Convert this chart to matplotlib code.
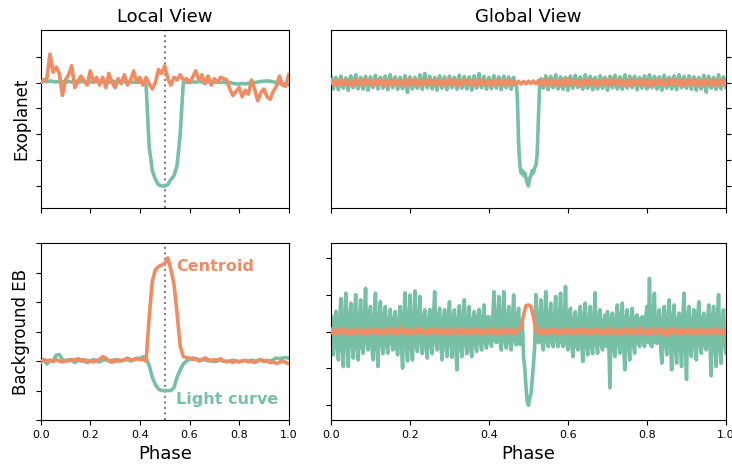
import numpy as np
import matplotlib
matplotlib.use("Agg")
import matplotlib.pyplot as plt

GREEN = "#78c0a5"
ORANGE = "#f08c63"

# local view (81 phase bins)
local_exo_lc = [0.0, 0.05, 0.03, 0.06, 0.04, 0.02, 0.05, 0.03, 0.0, 0.04,
                0.02, 0.05, 0.01, 0.03, 0.04, 0.0, 0.02, 0.05, 0.03, 0.01,
                0.04, 0.02, 0.0, 0.03, 0.05, 0.02, 0.01, 0.04, 0.02, 0.03,
                0.0, 0.02, 0.01, 0.0, -0.1, -2.5, -3.4, -3.75, -3.95, -4.0,
                -4.0, -3.95, -3.75, -3.6, -3.2, -2.0, 0.0, 0.02, 0.0, 0.03,
                0.01, 0.04, 0.02, 0.0, 0.03, 0.02, 0.01, 0.03, 0.0, 0.02,
                -0.02, 0.0, -0.03, -0.05, -0.06, -0.04, -0.05, -0.03, -0.02, 0.0,
                0.02, 0.04, 0.05, 0.06, 0.05, 0.03, 0.0, -0.04, -0.06, -0.05, -0.08]
local_exo_cen = [0.0, 0.1, 0.15, 1.1, 0.4, 0.6, 0.35, -0.5, 0.1, 0.3,
                 0.65, -0.2, 0.05, 0.25, 0.05, -0.1, 0.45, 0.0, 0.2, -0.1,
                 0.2, -0.2, 0.35, 0.0, -0.2, 0.15, -0.05, 0.3, -0.1, 0.1,
                 0.45, 0.0, 0.2, -0.1, 0.2, -0.05, -0.25, 0.0, 0.5, 0.35,
                 0.64, 0.15, -0.1, 0.2, 0.1, 0.3, 0.1, 0.15, 0.0, 0.2,
                 0.45, 0.1, 0.3, -0.05, 0.25, -0.1, 0.15, 0.0, 0.2, 0.15,
                 0.1, -0.25, -0.5, -0.35, -0.2, -0.55, -0.3, -0.45, 0.1, -0.25,
                 -0.7, -0.4, -0.25, -0.55, -0.65, -0.35, -0.15, 0.25, -0.1, -0.15, 0.3]
local_eb_lc = [0.0, 0.05, -0.1, 0.02, 0.0, 0.2, 0.22, 0.05, 0.0, 0.05,
               0.02, -0.05, 0.0, 0.05, -0.02, 0.03, 0.0, 0.05, 0.0, -0.03,
               0.02, 0.05, 0.0, 0.03, -0.02, 0.05, 0.0, 0.03, 0.05, 0.0,
               0.05, 0.1, 0.08, 0.15, 0.1, -0.15, -0.55, -0.8, -0.95, -1.0,
               -1.0, -1.0, -1.0, -0.9, -0.55, -0.3, -0.1, 0.0, 0.05, 0.1,
               0.08, 0.05, 0.03, 0.05, 0.0, 0.02, -0.02, 0.0, 0.03, 0.0,
               -0.02, 0.0, 0.03, 0.0, -0.02, 0.0, 0.02, 0.0, 0.03, 0.0,
               0.02, 0.05, 0.0, 0.02, 0.0, 0.05, 0.1, 0.08, 0.1, 0.12, 0.1]
local_eb_cen = [-0.05, 0.05, 0.0, 0.03, -0.02, 0.05, 0.0, -0.03, 0.02, 0.0,
                0.05, 0.03, 0.08, 0.0, 0.05, -0.05, 0.0, -0.03, 0.02, 0.05,
                0.15, 0.1, 0.0, -0.05, 0.05, 0.0, 0.02, 0.05, 0.1, 0.05,
                0.03, 0.08, 0.05, 0.05, 0.0, 1.5, 2.7, 3.1, 3.2, 3.25,
                3.3, 3.5, 3.1, 2.6, 1.6, 0.5, 0.15, 0.12, 0.1, 0.05,
                0.08, 0.0, 0.05, 0.1, 0.05, 0.0, 0.05, 0.02, 0.08, 0.0,
                -0.02, 0.0, -0.05, 0.0, -0.03, 0.0, 0.02, -0.03, 0.0, -0.05,
                0.0, 0.05, -0.02, 0.0, -0.05, -0.03, -0.08, -0.05, 0.0, -0.05, -0.08]

# global view light curves (321 phase bins)
global_exo_lc = [
    0.22, -0.08, -0.25, 0.1, 0.2, -0.05, -0.28, 0.08, 0.25, -0.1, -0.22, 0.06, 0.18, -0.08, -0.3, 0.1, 0.26, -0.06, -0.2, 0.08,
    0.3, -0.1, -0.24, 0.05, 0.2, -0.08, -0.26, 0.1, 0.24, -0.06, -0.3, 0.08, 0.22, -0.1, -0.2, 0.06, 0.28, -0.08, -0.25, 0.1,
    0.2, -0.05, -0.22, 0.08, 0.25, -0.1, -0.28, 0.06, 0.3, -0.08, -0.2, 0.1, 0.22, -0.06, -0.26, 0.08, 0.2, -0.1, -0.24, 0.05,
    0.26, -0.08, -0.38, 0.1, 0.22, -0.06, -0.25, 0.08, 0.2, -0.1, -0.22, 0.05, 0.3, -0.08, -0.26, 0.1, 0.35, -0.06, -0.2, 0.08,
    0.24, -0.1, -0.25, 0.06, 0.2, -0.08, -0.3, 0.1, 0.26, -0.05, -0.22, 0.08, 0.22, -0.1, -0.28, 0.06, 0.25, -0.08, -0.2, 0.1,
    0.2, -0.06, -0.26, 0.08, 0.28, -0.1, -0.22, 0.05, 0.24, -0.08, -0.25, 0.1, 0.22, -0.06, -0.3, 0.08, 0.26, -0.1, -0.22, 0.06,
    0.35, -0.08, -0.2, 0.1, 0.24, -0.05, -0.26, 0.08, 0.2, -0.1, -0.24, 0.06, 0.26, -0.08, -0.22, 0.1, 0.22, -0.06, -0.28, 0.08,
    0.25, -0.1, -0.2, 0.06, 0.22, -0.08, -0.26, 0.1, 0.2, -0.1, 0.0, -0.6, -2.4, -3.2, -3.5, -3.4, -3.6, -3.5, -3.7, -3.9,
    -4.0, -3.7, -3.6, -3.4, -3.5, -3.3, -3.2, -2.8, -1.5, -0.1, 0.15, -0.08, -0.22, 0.1, 0.26, -0.06, -0.28, 0.08, 0.24, -0.1,
    -0.2, 0.05, 0.3, -0.08, -0.25, 0.1, 0.22, -0.06, -0.26, 0.08, 0.2, -0.1, -0.3, 0.06, 0.25, -0.08, -0.22, 0.1, 0.28, -0.05,
    -0.2, 0.08, 0.22, -0.1, -0.26, 0.06, 0.3, -0.08, -0.22, 0.1, 0.24, -0.05, -0.28, 0.08, 0.2, -0.1, -0.25, 0.06, 0.26, -0.08,
    -0.22, 0.1, 0.2, -0.06, -0.3, 0.08, 0.24, -0.1, -0.2, 0.05, 0.28, -0.08, -0.25, 0.1, 0.22, -0.06, -0.26, 0.08, 0.3, -0.1,
    -0.22, 0.06, 0.25, -0.08, -0.2, 0.1, 0.24, -0.05, -0.28, 0.08, 0.2, -0.1, -0.22, 0.06, 0.26, -0.08, -0.25, 0.1, 0.3, -0.06,
    -0.2, 0.08, 0.24, -0.1, -0.26, 0.05, 0.22, -0.08, -0.3, 0.1, 0.28, -0.06, -0.22, 0.08, 0.2, -0.1, -0.25, 0.06, 0.26, -0.08,
    -0.28, 0.1, 0.3, -0.05, -0.2, 0.08, 0.24, -0.1, -0.22, 0.06, 0.26, -0.08, -0.26, 0.1, 0.22, -0.06, -0.3, 0.08, 0.2, -0.1,
    -0.25, 0.05, 0.28, -0.08, -0.38, 0.1, 0.24, -0.06, -0.22, 0.08, 0.2, -0.1, -0.26, 0.06, 0.3, -0.08, -0.25, 0.1, 0.22, -0.05,
    -0.2]
global_eb_lc = [
    0.4, -0.3, -0.63, 0.35, 0.55, -0.4, -0.77, 0.3, 0.9, -0.35, -0.95, 0.4, 1.04, -0.3, -0.95, 0.35, 0.77, -0.25, -0.72, 0.4,
    1.0, -0.35, -0.77, 0.3, 0.86, -0.4, -0.59, 0.35, 1.17, -0.3, -0.5, 0.45, 0.68, -0.35, -0.77, 0.3, 1.04, -0.4, -0.95, 0.35,
    0.81, -0.3, -0.6, 0.4, 0.68, -0.35, -0.59, 0.3, 0.6, -0.25, -0.5, 0.35, 0.54, -0.4, -0.63, 0.3, 0.68, -0.35, -0.99, 0.4,
    1.05, -0.3, -0.8, 0.35, 0.99, -0.4, -0.77, 0.3, 1.1, -0.35, -0.54, 0.4, 0.95, -0.3, -0.6, 0.35, 0.59, -0.4, -0.72, 0.3,
    0.6, -0.35, -0.6, 0.4, 1.08, -0.3, -0.5, 0.35, 0.63, -0.4, -0.77, 0.3, 0.59, -0.35, -0.68, 0.4, 0.81, -0.3, -0.7, 0.35,
    0.59, -0.4, -1.04, 0.3, 0.7, -0.35, -0.68, 0.4, 0.86, -0.3, -0.6, 0.35, 0.68, -0.4, -0.68, 0.3, 0.54, -0.35, -0.54, 0.4,
    0.6, -0.3, -0.5, 0.35, 0.72, -0.3, -0.45, 0.4, 0.4, -0.3, -0.4, 0.35, 1.08, -0.25, -0.3, 0.4, 0.95, -0.3, -0.5, 0.35,
    1.08, -0.25, -0.45, 0.4, 0.68, -0.3, -0.5, 0.35, 0.99, -0.25, -0.36, 0.4, 0.63, -0.35, -0.3, 0.3, -0.7, -1.0, -1.5, -1.9,
    -2.0, -1.8, -1.7, -1.3, -0.9, -0.4, 1.0, -0.2, -0.3, 0.4, 0.86, -0.3, -0.5, 0.35, 1.08, -0.25, -0.41, 0.4, 0.77, -0.3,
    -0.41, 0.35, 0.95, -0.25, -0.41, 0.4, 1.04, -0.3, -0.41, 0.35, 1.22, -0.3, -0.5, 0.4, 0.63, -0.35, -0.68, 0.3, 0.54, -0.4,
    -0.5, 0.35, 0.68, -0.3, -0.81, 0.4, 0.77, -0.35, -0.63, 0.3, 0.68, -0.4, -0.6, 0.35, 1.05, -0.3, -0.59, 0.4, 0.59, -0.35,
    -0.5, 0.3, 0.45, -0.4, 0.54, -0.3, -1.53, 0.35, 0.5, -0.4, -0.68, 0.3, 0.72, -0.35, -0.59, 0.4, 0.77, -0.3, -1.04, 0.35,
    0.59, -0.4, -0.77, 0.3, 0.63, -0.35, -0.59, 0.4, 0.45, -0.3, -0.41, 0.35, 0.4, -0.3, -0.41, 0.4, 0.68, -0.3, 1.44, -0.35,
    -0.41, 0.4, 1.04, -0.3, -0.32, 0.35, 0.59, -0.4, -0.86, 0.3, 0.68, -0.35, -0.63, 0.4, 0.86, -0.3, -1.04, 0.35, 0.72, -0.4,
    -0.86, 0.3, 0.5, -0.35, -0.95, 0.4, 1.04, -0.3, -1.3, 0.35, 0.68, -0.4, -0.68, 0.3, 0.59, -0.35, -0.77, 0.4, 0.81, -0.3,
    -0.59, 0.35, 0.5, -0.4, -0.5, 0.3, 0.72, -0.35, -1.2, 0.4, 0.68, -0.3, -0.95, 0.35, 1.0, -0.4, -0.86, 0.3, 0.59, -0.35,
    -0.59]

# global view centroids (161 phase bins)
global_exo_cen = [0.1, -0.1, 0.08, -0.12, 0.12, -0.08, 0.1, -0.1, 0.06, -0.12,
                  0.12, -0.08, 0.1, -0.1, 0.14, -0.06, 0.08, -0.12, 0.1, -0.08,
                  0.12, -0.1, 0.08, -0.14, 0.1, -0.08, 0.12, -0.1, 0.06, -0.1,
                  0.1, -0.12, 0.14, -0.08, 0.1, -0.1, 0.08, -0.12, 0.12, -0.06,
                  0.1, -0.1, 0.12, -0.08, 0.08, -0.12, 0.1, -0.1, 0.14, -0.08,
                  0.1, -0.12, 0.08, -0.1, 0.12, -0.06, 0.1, -0.1, 0.08, -0.12,
                  0.12, -0.08, 0.1, -0.1, 0.06, -0.12, 0.1, -0.08, 0.12, -0.1,
                  0.08, -0.1, 0.1, -0.08, 0.06, -0.06, 0.05, -0.06, 0.04, -0.05,
                  0.05, -0.04, 0.06, -0.05, 0.08, -0.1, 0.1, -0.12, 0.12, -0.08,
                  0.1, -0.1, 0.08, -0.12, 0.12, -0.1, 0.14, -0.08, 0.1, -0.1,
                  0.08, -0.12, 0.1, -0.08, 0.12, -0.1, 0.1, -0.12, 0.06, -0.1,
                  0.12, -0.08, 0.1, -0.1, 0.14, -0.06, 0.1, -0.12, 0.08, -0.1,
                  0.1, -0.12, 0.12, -0.08, 0.08, -0.1, 0.12, -0.1, 0.1, -0.14,
                  0.08, -0.1, 0.12, -0.08, 0.1, -0.12, 0.1, -0.06, 0.12, -0.1,
                  0.14, -0.1, 0.08, -0.12, 0.1, -0.08, 0.12, -0.1, 0.1, -0.12,
                  0.08, -0.1, 0.12, -0.08, 0.1, -0.12, 0.1, -0.1, 0.12, -0.08,
                  0.1]
global_eb_cen = [0.06, -0.08, 0.05, -0.06, 0.08, -0.05, 0.06, -0.08, 0.04, -0.06,
                 0.08, -0.05, 0.06, -0.07, 0.05, -0.08, 0.07, -0.05, 0.06, -0.06,
                 0.05, -0.08, 0.06, -0.05, 0.08, -0.06, 0.05, -0.07, 0.12, -0.05,
                 0.06, -0.08, 0.05, -0.06, 0.07, -0.05, 0.08, -0.06, 0.05, -0.08,
                 0.06, -0.05, 0.08, -0.07, 0.05, -0.06, 0.06, -0.08, 0.07, -0.05,
                 0.05, -0.06, 0.08, -0.05, 0.06, -0.07, 0.05, -0.06, 0.08, -0.05,
                 0.06, -0.08, 0.05, -0.06, 0.07, -0.05, 0.06, -0.08, 0.05, -0.06,
                 0.08, -0.05, 0.06, -0.06, 0.05, -0.05, 0.06, 0.1, 0.45, 0.7,
                 0.72, 0.68, 0.4, 0.05, -0.06, 0.06, -0.08, 0.05, -0.06, 0.07,
                 -0.05, 0.06, -0.08, 0.05, -0.06, 0.08, -0.05, 0.06, -0.07, 0.05,
                 -0.06, 0.08, -0.05, 0.06, -0.08, 0.05, -0.06, 0.07, -0.05, 0.06,
                 -0.08, 0.05, -0.06, 0.08, -0.05, 0.06, -0.07, 0.05, -0.06, 0.08,
                 -0.05, 0.06, -0.08, 0.05, -0.06, 0.1, -0.05, 0.06, -0.08, 0.05,
                 -0.06, 0.08, -0.05, 0.06, -0.07, 0.05, -0.12, 0.06, -0.05, 0.08,
                 -0.06, 0.05, -0.08, 0.06, -0.05, 0.07, -0.06, 0.05, -0.08, 0.06,
                 -0.05, 0.06, -0.07, 0.05, -0.06, 0.08, -0.05, 0.06, -0.08, 0.05,
                 -0.06]

xticks = [0.0, 0.2, 0.4, 0.6, 0.8, 1.0]

fig = plt.figure(figsize=(7.32, 4.67), dpi=100)
ax_tl = fig.add_axes([0.0556, 0.5546, 0.3388, 0.3812])
ax_bl = fig.add_axes([0.0556, 0.1006, 0.3388, 0.3790])
ax_tr = fig.add_axes([0.4522, 0.5546, 0.5396, 0.3812])
ax_br = fig.add_axes([0.4522, 0.1006, 0.5396, 0.3790])

lw = 2.6

def draw(ax, lc, cen, dotted):
    x1 = np.linspace(0, 1, len(lc))
    x2 = np.linspace(0, 1, len(cen))
    if dotted:
        ax.axvline(0.5, color="gray", ls=":", lw=1.5, zorder=1)
    ax.plot(x1, lc, color=GREEN, lw=lw, zorder=2)
    ax.plot(x2, cen, color=ORANGE, lw=lw, zorder=3)
    ax.set_xlim(0, 1)
    ax.set_xticks(xticks)
    ax.tick_params(labelsize=8, labelleft=False, labelright=False)

draw(ax_tl, local_exo_lc, local_exo_cen, True)
draw(ax_bl, local_eb_lc, local_eb_cen, True)
draw(ax_tr, global_exo_lc, global_exo_cen, False)
draw(ax_br, global_eb_lc, global_eb_cen, False)

ax_tl.set_ylim(-4.85, 2.03)
ax_tl.set_yticks([-4, -3, -2, -1, 0, 1])
ax_tr.set_ylim(-4.85, 2.03)
ax_tr.set_yticks([-4, -3, -2, -1, 0, 1])
ax_tr.yaxis.tick_right()
ax_bl.set_ylim(-2, 4)
ax_bl.set_yticks([-2, -1, 0, 1, 2, 3, 4])
ax_br.set_ylim(-2.4, 2.4)
ax_br.set_yticks([-2, -1, 0, 1, 2])

for ax in (ax_tl, ax_tr):
    ax.set_xticklabels([])
    ax.tick_params(labelright=False, labelleft=False)

ax_tl.set_title("Local View", fontsize=13)
ax_tr.set_title("Global View", fontsize=13)
ax_tl.set_ylabel("Exoplanet", fontsize=12)
ax_bl.set_ylabel("Background EB", fontsize=12)
ax_bl.set_xlabel("Phase", fontsize=13)
ax_br.set_xlabel("Phase", fontsize=13)

ax_bl.text(0.545, 3.22, "Centroid", color=ORANGE, fontsize=11.5,
           fontweight="bold", va="center", ha="left")
ax_bl.text(0.545, -1.3, "Light curve", color=GREEN, fontsize=11.5,
           fontweight="bold", va="center", ha="left")

fig.savefig("out.png", dpi=100)
